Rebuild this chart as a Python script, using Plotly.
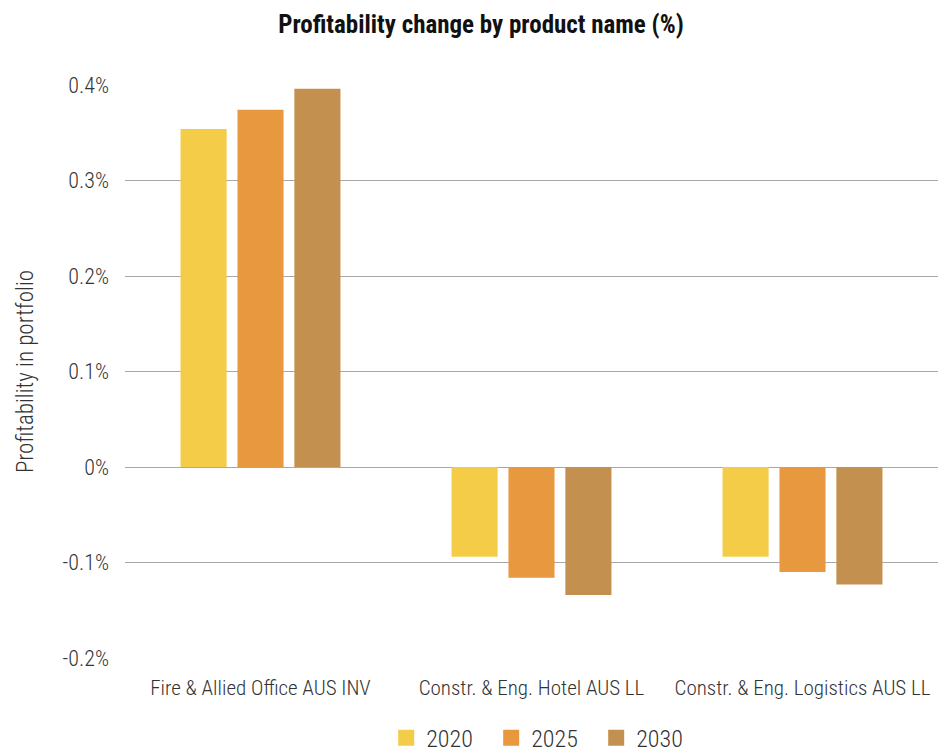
import plotly.graph_objects as go

categories = ["Fire & Allied Office AUS INV", "Constr. & Eng. Hotel AUS LL", "Constr. & Eng. Logistics AUS LL"]
years = ["2020", "2025", "2030"]
values_2020 = [0.354, -0.094, -0.094]
values_2025 = [0.374, -0.116, -0.110]
values_2030 = [0.396, -0.134, -0.123]
colors = ["#F5CC47", "#E8993F", "#C4904F"]
tick_vals = [-0.2, -0.1, 0, 0.1, 0.2, 0.3, 0.4]
tick_text = ["-0.2%", "-0.1%", "0%", "0.1%", "0.2%", "0.3%", "0.4%"]

FONT = "Roboto Condensed, Roboto, Arial Narrow, sans-serif"

fig = go.Figure()
for name, vals, col in zip(years, [values_2020, values_2025, values_2030], colors):
    fig.add_trace(go.Bar(x=categories, y=vals, name=name, marker_color=col,
                         marker_line_width=0, showlegend=False))
for name, col in zip(years, colors):
    fig.add_trace(go.Scatter(x=[None], y=[None], mode="markers", name=name,
                             marker=dict(symbol="square", size=22, color=col)))

fig.update_layout(
    width=946, height=753,
    paper_bgcolor="white", plot_bgcolor="white",
    font=dict(family=FONT, color="#333333", size=20, weight=300),
    title=dict(text="<b>Profitability change by product name (%)</b>",
               x=0.5, xanchor="center", y=0.979, yanchor="middle",
               font=dict(family=FONT, size=25, color="#111111", weight=700)),
    margin=dict(l=117, r=16, t=77, b=103),
    barmode="group", bargap=0.37, bargroupgap=0.19,
    legend=dict(orientation="h", x=0.515, xanchor="center",
                yref="container", y=0.0305, yanchor="middle",
                entrywidth=60,
                font=dict(size=24, color="#333333", weight=300), itemsizing="trace"),
    xaxis=dict(showgrid=False, showline=False, ticks="", ticklabelstandoff=15,
               tickfont=dict(size=21, weight=300)),
    yaxis=dict(range=[-0.2, 0.4], tickvals=tick_vals, ticktext=tick_text,
               showgrid=True, gridcolor="#A8A8A8", gridwidth=1,
               zeroline=True, zerolinecolor="#A8A8A8", zerolinewidth=1,
               ticks="", ticklabelstandoff=15, tickfont=dict(size=22, weight=300),
               title=dict(text="Profitability in portfolio", standoff=22,
                          font=dict(size=23, weight=300))),
)

fig.write_html("out.html")
